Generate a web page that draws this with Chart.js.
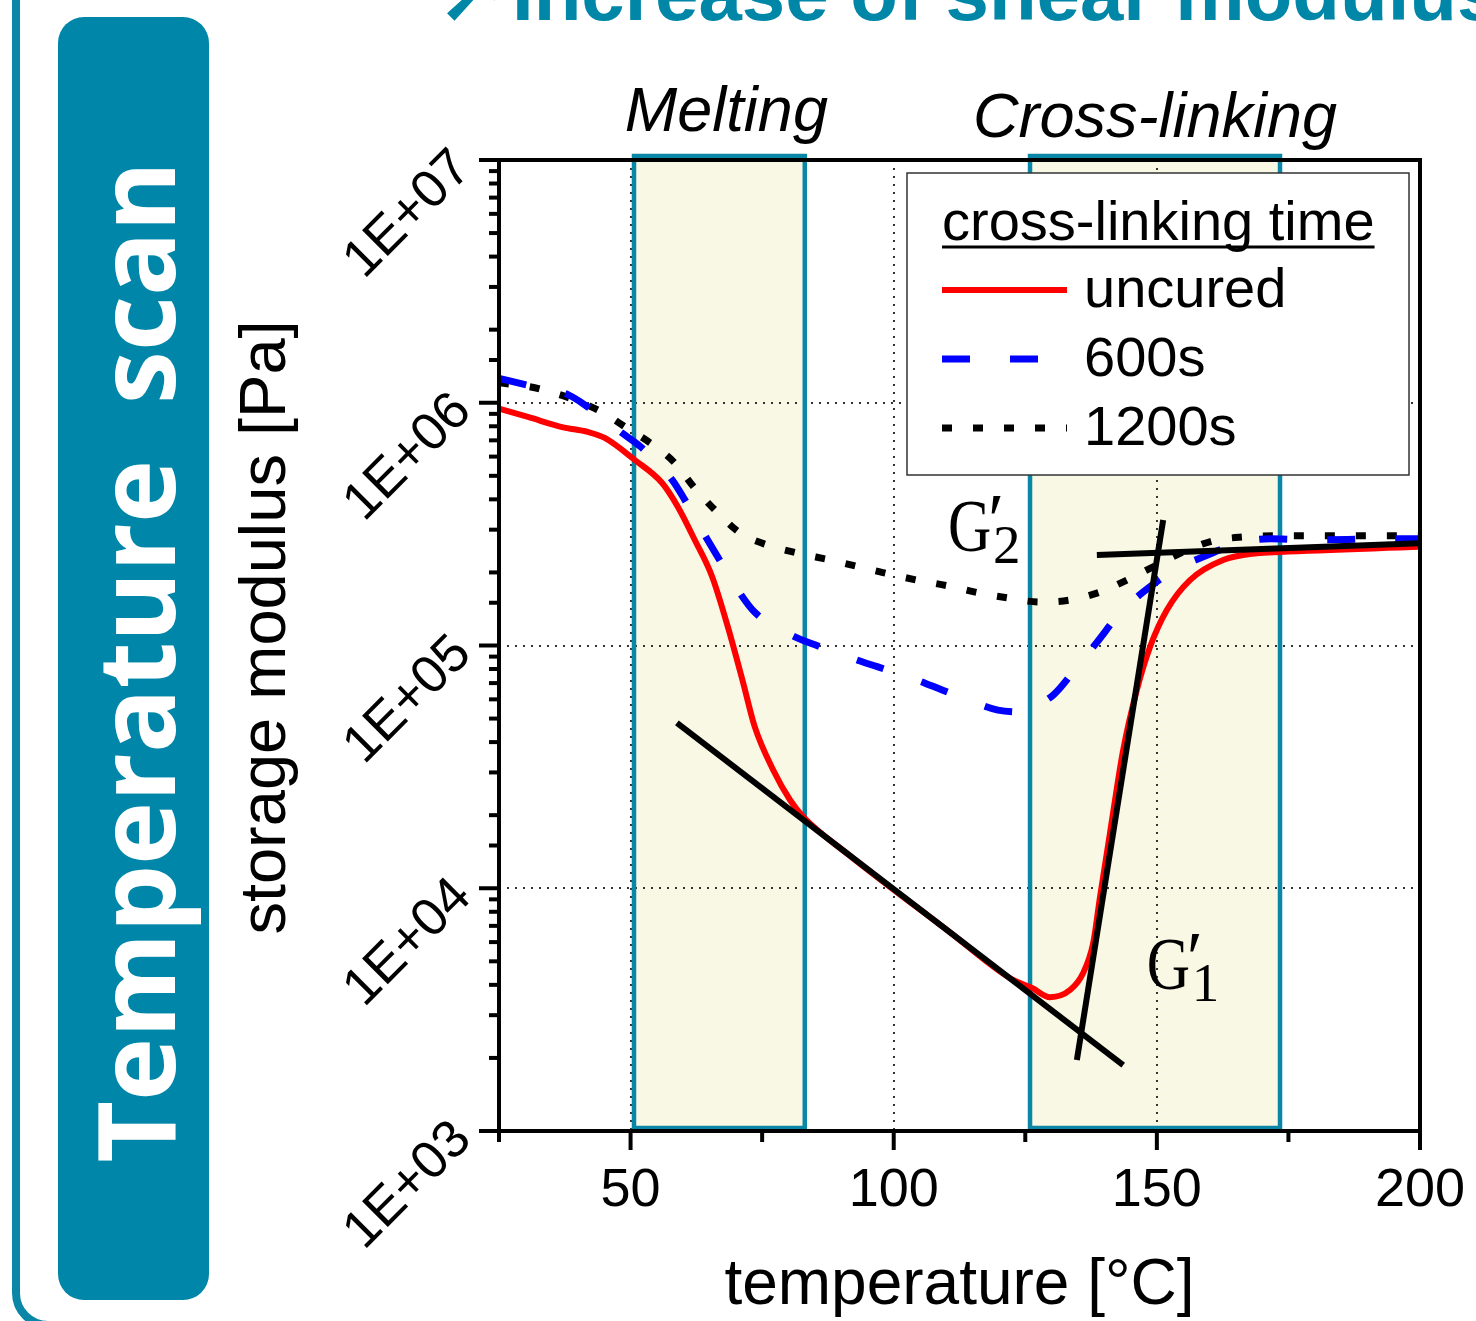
<!DOCTYPE html>
<html><head><meta charset="utf-8">
<script src="https://cdn.jsdelivr.net/npm/chart.js@4.4.1/dist/chart.umd.min.js"></script>
<style>
html,body{margin:0;padding:0;background:#fff;}
body{width:1476px;height:1321px;overflow:hidden;position:relative;font-family:"Liberation Sans",Arial,sans-serif;}
#frame{position:absolute;left:12px;top:-60px;width:2000px;height:1389px;border:8px solid #0a87a7;border-radius:36px;box-sizing:border-box;}
#tab{position:absolute;left:58px;top:17px;width:151px;height:1283px;background:#0086a8;border-radius:26px;}
#tabText{position:absolute;left:-574px;top:589px;width:1300px;height:112px;line-height:112px;text-align:center;transform:rotate(-90deg);color:#fff;font-family:"Open Sans";font-weight:700;font-size:107px;white-space:pre;}
#arrow{position:absolute;left:436px;top:-54px;font-family:"DejaVu Sans";font-weight:700;font-size:90px;line-height:90px;color:#0087a8;white-space:pre;}
#headline{position:absolute;left:512px;top:-46px;font-family:"Liberation Sans";font-weight:700;font-size:78px;line-height:78px;color:#0087a8;white-space:pre;}
#c{position:absolute;left:0;top:0;}
</style></head>
<body>
<div id="frame"></div>
<div id="tab"><div id="tabText">Temperature  scan</div></div>
<div id="arrow">➚</div>
<div id="headline">Increase of shear modulus</div>
<canvas id="c" width="1476" height="1321"></canvas>
<script>
// ---- data ----
const temps_uncured = [25, 30.5, 37.0, 41.9, 45.1, 50.8, 56.0, 59.0, 62.2, 65.5, 68.5, 71.4, 73.6, 77.1, 80.3, 82.8, 91.7, 110.7, 122.1, 126.3, 129.7, 133.5, 136.0, 137.9, 139.2, 141.1, 143.6, 146.2, 148.7, 151.9, 156.3, 162.6, 169.0, 173.4, 200];
const G_uncured = [9.45e5, 8.74e5, 7.94e5, 7.58e5, 7.16e5, 5.81e5, 4.67e5, 3.72e5, 2.72e5, 1.92e5, 1.19e5, 7.01e4, 4.62e4, 3.07e4, 2.31e4, 1.97e4, 1.36e4, 6.58e3, 4.26e3, 3.88e3, 3.56e3, 3.81e3, 4.48e3, 5.95e3, 9.2e3, 1.69e4, 3.71e4, 6.56e4, 9.86e4, 1.40e5, 1.86e5, 2.25e5, 2.40e5, 2.43e5, 2.55e5];

const temps_600 = [25, 30.5, 38.1, 41.9, 48.4, 52.2, 57.9, 60.3, 64.1, 66.6, 70.4, 73.6, 80.7, 85.4, 93.0, 97.0, 104.4, 109.2, 115.1, 119.8, 124.9, 126.5, 130.3, 135.4, 138.6, 143.0, 147.4, 154.0, 158.6, 166.4, 171.5, 179.1, 193.3, 200];
const G_600 = [1.26e6, 1.18e6, 1.08e6, 9.6e5, 7.5e5, 6.51e5, 4.81e5, 3.98e5, 2.85e5, 2.31e5, 1.69e5, 1.37e5, 1.10e5, 1.00e5, 8.71e4, 8.16e4, 7.21e4, 6.56e4, 5.85e4, 5.42e4, 5.32e4, 5.58e4, 6.25e4, 8.47e4, 1.03e5, 1.36e5, 1.66e5, 2.09e5, 2.31e5, 2.67e5, 2.75e5, 2.72e5, 2.75e5, 2.75e5];

const temps_1200 = [25, 32.8, 43.8, 49.3, 54.3, 58.4, 62.2, 66.4, 70.8, 76.1, 81.8, 87.9, 97.4, 104.4, 110.3, 116.0, 121.7, 127.8, 133.5, 139.2, 144.3, 149.3, 155.0, 160.7, 166.4, 172.1, 200];
const G_1200 = [1.21e6, 1.14e6, 9.33e5, 7.87e5, 6.70e5, 5.65e5, 4.45e5, 3.55e5, 2.91e5, 2.59e5, 2.40e5, 2.25e5, 2.01e5, 1.86e5, 1.76e5, 1.65e5, 1.57e5, 1.51e5, 1.54e5, 1.66e5, 1.86e5, 2.11e5, 2.43e5, 2.70e5, 2.80e5, 2.83e5, 2.83e5];

// tangent construction lines
const tanMelt_T = [58.8, 143.6];
const tanMelt_G = [4.80e4, 1.87e3];
const tanCure_T = [134.8, 151.2];
const tanCure_G = [1.96e3, 3.29e5];
const tanPlateau_T = [138.6, 200];
const tanPlateau_G = [2.36e5, 2.64e5];

// phases
const meltingRange = [50.65, 83.1];
const crosslinkRange = [125.9, 173.4];
const phaseLabels = ['Melting', 'Cross-linking'];

// axes
const xMin = 25, xMax = 200, xStep = 25;
const xLabelValues = [50, 100, 150, 200];
const yMin = 1e3, yMax = 1e7;
const yTickLabels = {3: '1E+03', 4: '1E+04', 5: '1E+05', 6: '1E+06', 7: '1E+07'};

const seriesLabels = ['uncured', '600s', '1200s'];
const legendTitle = 'cross-linking time';

const pts = (t, g) => t.map((v, i) => ({x: v, y: g[i]}));
const TEAL = '#0a87a7';
const FONT = '"Liberation Sans", Arial, sans-serif';

Chart.defaults.font.family = FONT;
Chart.defaults.color = '#000';

const phasePlugin = {
  id: 'phases',
  beforeDraw(chart) {
    const {ctx, scales: {x, y}} = chart;
    ctx.save();
    const top = y.getPixelForValue(yMax) - 4;
    const bot = y.getPixelForValue(yMin) - 3;
    for (const [a, b] of [meltingRange, crosslinkRange]) {
      const x0 = x.getPixelForValue(a), x1 = x.getPixelForValue(b);
      ctx.fillStyle = '#f8f8e5';
      ctx.fillRect(x0, top, x1 - x0, bot - top);
    }
    ctx.restore();
  },
  beforeDatasetsDraw(chart) {
    const {ctx, scales: {x, y}} = chart;
    ctx.save();
    const top = y.getPixelForValue(yMax) - 4;
    const bot = y.getPixelForValue(yMin) - 3;
    ctx.strokeStyle = TEAL; ctx.lineWidth = 4.5;
    for (const [a, b] of [meltingRange, crosslinkRange]) {
      const x0 = x.getPixelForValue(a), x1 = x.getPixelForValue(b);
      ctx.strokeRect(x0, top, x1 - x0, bot - top);
    }
    ctx.restore();
  }
};

const framePlugin = {
  id: 'frame',
  afterDatasetsDraw(chart) {
    const {ctx, chartArea: ca, scales: {x, y}} = chart;
    ctx.save();
    ctx.strokeStyle = '#000'; ctx.lineWidth = 4; ctx.lineCap = 'butt';
    const line = (x0, y0, x1, y1) => { ctx.beginPath(); ctx.moveTo(x0, y0); ctx.lineTo(x1, y1); ctx.stroke(); };
    line(ca.left, ca.top - 2, ca.left, ca.bottom + 11);
    line(ca.right, ca.top - 2, ca.right, ca.bottom + 19);
    line(ca.left, ca.top, ca.right + 2, ca.top);
    line(ca.left, ca.bottom, ca.right + 2, ca.bottom);
    for (const t of y.ticks) {
      const py = y.getPixelForValue(t.value);
      const e = Math.log10(t.value);
      const major = Math.abs(e - Math.round(e)) < 1e-9;
      line(ca.left - (major ? 20 : 10), py, ca.left, py);
    }
    for (let v = xMin; v <= xMax; v += xStep) {
      const px = x.getPixelForValue(v);
      line(px, ca.bottom, px, ca.bottom + (v % 50 === 0 ? 19 : 11));
    }
    ctx.restore();
  },
  afterDraw(chart) {
    const {ctx, chartArea: ca, scales: {x, y}} = chart;
    ctx.save();
    // y-axis title
    ctx.fillStyle = '#000';
    ctx.font = '65px ' + FONT;
    ctx.textAlign = 'center'; ctx.textBaseline = 'middle';
    ctx.translate(267, (ca.top + ca.bottom) / 2 - 18);
    ctx.rotate(-Math.PI / 2);
    ctx.fillText('storage modulus [Pa]', 0, 0);
    ctx.restore();

    // phase labels
    ctx.save();
    ctx.fillStyle = '#000';
    ctx.font = 'italic 63px ' + FONT;
    ctx.textAlign = 'center'; ctx.textBaseline = 'alphabetic';
    const mC = (x.getPixelForValue(meltingRange[0]) + x.getPixelForValue(meltingRange[1])) / 2 + 7;
    const cC = (x.getPixelForValue(crosslinkRange[0]) + x.getPixelForValue(crosslinkRange[1])) / 2;
    ctx.fillText(phaseLabels[0], mC, ca.top - 29);
    ctx.fillText(phaseLabels[1], cC, ca.top - 23);
    ctx.restore();

    // G' labels
    const gLabel = (gx, gy, sub) => {
      ctx.save();
      ctx.fillStyle = '#000';
      ctx.textBaseline = 'alphabetic'; ctx.textAlign = 'left';
      ctx.save();
      ctx.translate(gx, gy);
      ctx.scale(0.82, 1);
      ctx.font = '73px "Liberation Serif", serif';
      ctx.fillText('G', 0, 0);
      ctx.restore();
      ctx.font = '74px "Liberation Serif", serif';
      ctx.fillText('\u2032', gx + 40, gy - 6);
      ctx.font = '55px "Liberation Serif", serif';
      ctx.fillText(sub, gx + 45, gy + 12);
      ctx.restore();
    };
    gLabel(x.getPixelForValue(110.3), y.getPixelForValue(2.45e5), '2');
    gLabel(x.getPixelForValue(148.1), y.getPixelForValue(3.85e3), '1');

    // legend
    ctx.save();
    const L = ca.right - 513, T = ca.top + 13, W = 502, H = 302;
    ctx.fillStyle = '#fff'; ctx.fillRect(L, T, W, H);
    ctx.strokeStyle = '#333'; ctx.lineWidth = 1.5; ctx.strokeRect(L, T, W, H);
    ctx.fillStyle = '#000';
    ctx.font = '56px ' + FONT;
    ctx.textAlign = 'left'; ctx.textBaseline = 'alphabetic';
    ctx.fillText(legendTitle, L + 35, T + 67);
    const tw = ctx.measureText(legendTitle).width;
    ctx.lineWidth = 3; ctx.strokeStyle = '#000';
    ctx.beginPath(); ctx.moveTo(L + 35, T + 74); ctx.lineTo(L + 35 + tw, T + 74); ctx.stroke();
    const rows = [T + 117, T + 186, T + 255];
    chart.data.datasets.slice(0, 3).forEach((ds, i) => {
      ctx.save();
      ctx.strokeStyle = ds.borderColor; ctx.lineWidth = ds.borderWidth;
      ctx.setLineDash(ds.borderDash || []);
      ctx.lineCap = 'butt';
      ctx.beginPath(); ctx.moveTo(L + 35, rows[i]); ctx.lineTo(L + 160, rows[i]); ctx.stroke();
      ctx.restore();
      ctx.textBaseline = 'middle';
      ctx.fillText(ds.label, L + 177, rows[i] + 2);
    });
    ctx.restore();
  }
};

const gridColor = (c) => c.tick && [50, 100, 150].includes(c.tick.value) ? '#333' : 'rgba(0,0,0,0)';
const yGridColor = (c) => {
  if (!c.tick) return 'rgba(0,0,0,0)';
  const e = Math.log10(c.tick.value);
  return (Math.abs(e - Math.round(e)) < 1e-9 && e > 3.5 && e < 6.5) ? '#333' : 'rgba(0,0,0,0)';
};

new Chart(document.getElementById('c'), {
  type: 'line',
  data: {
    datasets: [
      {label: seriesLabels[0], data: pts(temps_uncured, G_uncured), borderColor: '#ff0000', borderWidth: 6, borderDash: [], order: 3},
      {label: seriesLabels[1], data: pts(temps_600, G_600), borderColor: '#0000ff', borderWidth: 7, borderDash: [28, 40], order: 1},
      {label: seriesLabels[2], data: pts(temps_1200, G_1200), borderColor: '#000000', borderWidth: 7, borderDash: [10, 21], order: 2},
      {label: 'tangent melt', data: pts(tanMelt_T, tanMelt_G), borderColor: '#000', borderWidth: 6, cubicInterpolationMode: 'default', tension: 0, order: 0},
      {label: 'tangent cure', data: pts(tanCure_T, tanCure_G), borderColor: '#000', borderWidth: 6, cubicInterpolationMode: 'default', tension: 0, order: 0},
      {label: 'tangent plateau', data: pts(tanPlateau_T, tanPlateau_G), borderColor: '#000', borderWidth: 6, cubicInterpolationMode: 'default', tension: 0, order: 0}
    ]
  },
  options: {
    responsive: false,
    devicePixelRatio: 1,
    animation: false,
    parsing: true,
    layout: {padding: {left: 0, top: 160, right: 56, bottom: 0}},
    elements: {point: {radius: 0}, line: {cubicInterpolationMode: 'monotone', borderCapStyle: 'butt', fill: false}},
    plugins: {legend: {display: false}, tooltip: {enabled: false}},
    scales: {
      x: {
        type: 'linear', position: 'bottom', min: xMin, max: xMax,
        afterFit: (s) => { s.height = 190; s.paddingLeft = 0; s.paddingRight = 0; },
        ticks: {stepSize: xStep, autoSkip: false, maxRotation: 0, minRotation: 0, padding: 33,
          font: {size: 54, lineHeight: 1}, color: '#000',
          callback: (v) => xLabelValues.includes(v) ? String(v) : ''},
        grid: {drawTicks: false, color: gridColor, lineWidth: 2},
        border: {display: false, dash: [2, 6]},
        title: {display: true, text: 'temperature [°C]', font: {size: 64, lineHeight: 1}, color: '#000', padding: {top: 0, bottom: 3}}
      },
      y: {
        type: 'logarithmic', position: 'left', min: yMin, max: yMax,
        afterFit: (s) => { s.width = 499; s.paddingTop = 0; s.paddingBottom = 0; },
        ticks: {autoSkip: false, minRotation: 45, maxRotation: 45, padding: 36,
          font: {size: 53, lineHeight: 1}, color: '#000',
          callback: (v) => { const e = Math.log10(v); return Math.abs(e - Math.round(e)) < 1e-9 ? (yTickLabels[Math.round(e)] || '') : ''; }},
        grid: {drawTicks: false, color: yGridColor, lineWidth: 2},
        border: {display: false, dash: [2, 6]}
      }
    }
  },
  plugins: [phasePlugin, framePlugin]
});
</script>
</body></html>
